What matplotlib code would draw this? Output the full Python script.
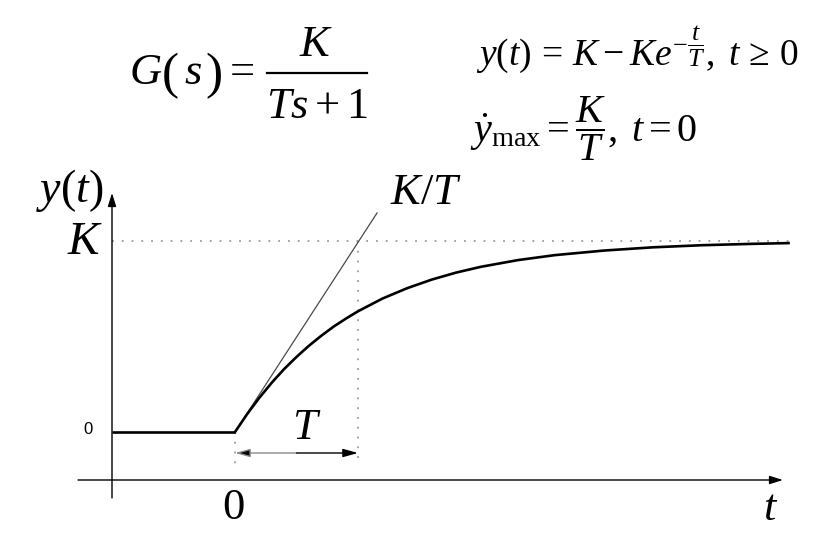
import numpy as np
import matplotlib.pyplot as plt
from matplotlib.lines import Line2D

plt.rcParams['mathtext.fontset'] = 'custom'
plt.rcParams['mathtext.rm'] = 'Liberation Serif'
plt.rcParams['mathtext.it'] = 'Liberation Serif:italic'
plt.rcParams['mathtext.bf'] = 'Liberation Serif:bold'
plt.rcParams['font.family'] = 'Liberation Serif'

# Step response of a first order system (t in units of T, y in units of K)
t_curve = [0, 0.1, 0.2, 0.3, 0.4, 0.5, 0.6, 0.7, 0.8, 0.9, 1.0, 1.2, 1.4, 1.6,
           1.8, 2.0, 2.3, 2.6, 3.0, 3.4, 3.8, 4.2, 4.5]
y_curve = [0, 0.095, 0.181, 0.259, 0.330, 0.393, 0.451, 0.503, 0.551, 0.593, 0.632,
           0.699, 0.753, 0.798, 0.835, 0.865, 0.900, 0.926, 0.950, 0.967, 0.978, 0.985, 0.989]

# Zero level before the step
t_before = [-1.0, 0.0]
y_before = [0.0, 0.0]

# Tangent at t = 0 (slope K/T)
t_tangent = [0.0, 1.155]
y_tangent = [0.0, 1.147]

K_level = 1.0
T_mark = 1.0
t_end = 4.5

# Pixel mapping of the reference: t=0 at x=235, T=123 px, y=0 at 432, K=191 px
W, H = 825, 542
X0, SX, Y0, SY = 235, 123, 432, 191

def px(x, y):
    """Pixel position -> data coordinates."""
    return (x - X0) / SX, (Y0 - y) / SY

def fpx(x, y):
    """Pixel position -> figure fraction."""
    return x / W, 1 - y / H

fig = plt.figure(figsize=(W / 100, H / 100), dpi=100)
ax = fig.add_axes([0, 0, 1, 1])
ax.set_xlim(px(0, 0)[0], px(W, 0)[0])
ax.set_ylim(px(0, H)[1], px(0, 0)[1])
ax.axis('off')

# Axes with arrow heads
head = '-|>,head_length=0.8,head_width=0.25'
ax.annotate('', xy=px(783, 480), xytext=px(78, 480),
            arrowprops=dict(arrowstyle=head, color='black', lw=1.0, shrinkA=0, shrinkB=0))
ax.annotate('', xy=px(112, 193), xytext=px(112, 498),
            arrowprops=dict(arrowstyle=head, color='black', lw=1.0, shrinkA=0, shrinkB=0))

# Dotted guide lines
dot = dict(color='#8a8a8a', lw=1.1, linestyle=(0, (1.2, 5.2)))
ax.plot([t_before[0], t_end], [K_level, K_level], **dot)
ax.plot([T_mark, T_mark], [K_level, px(0, 464)[1]], **dot)
ax.plot([0, 0], [0, px(0, 470)[1]], **dot)

# Tangent line
ax.plot(t_tangent, y_tangent, color='#4a4a4a', lw=0.9)

# Response curve
ax.plot(t_before, y_before, color='black', lw=1.9, solid_capstyle='butt')
ax.plot(t_curve, y_curve, color='black', lw=1.9)

# T dimension arrow (left half grey, right half black as in the scan)
ya = px(0, 453)[1]
ax.annotate('', xy=(0, ya), xytext=(T_mark / 2, ya),
            arrowprops=dict(arrowstyle='-|>,head_length=0.9,head_width=0.25', ec='#8a8a8a', fc='black',
                            lw=1.0, shrinkA=0, shrinkB=0))
ax.annotate('', xy=(T_mark, ya), xytext=(T_mark / 2, ya),
            arrowprops=dict(arrowstyle='-|>,head_length=0.9,head_width=0.25', color='black',
                            lw=1.0, shrinkA=0, shrinkB=0))

# Labels on the graph
ax.text(*px(103, 190), r'$y(t)$', fontsize=33, ha='right', va='center')
ax.text(*px(103, 243), r'$K$', fontsize=34, ha='right', va='center')
ax.text(*px(88, 429), '0', fontsize=12, ha='center', va='center', family='Liberation Sans')
ax.text(*px(390, 193), r'$K/T$', fontsize=32, ha='left', va='center')
ax.text(*px(307, 428), r'$T$', fontsize=32, ha='center', va='center')
ax.text(*px(233, 508), '0', fontsize=32, ha='center', va='center')
ax.text(*px(771, 509), r'$t$', fontsize=32, ha='center', va='center')

# Transfer function, laid out piece by piece (big parentheses, open fraction)
fs = 32
fig.text(*fpx(129, 84), r'$G$', fontsize=fs, ha='left', va='baseline')
fig.text(*fpx(162, 88), '(', fontsize=37, ha='left', va='baseline')
fig.text(*fpx(184, 84), r'$s$', fontsize=fs, ha='left', va='baseline')
fig.text(*fpx(205, 88), ')', fontsize=37, ha='left', va='baseline')
fig.text(*fpx(230, 84), '=', fontsize=fs, ha='left', va='baseline')
fig.lines.append(Line2D([267 / W, 367 / W], [1 - 73 / H, 1 - 73 / H], transform=fig.transFigure,
                        color='black', lw=1.6))
fig.text(*fpx(316, 56), r'$K$', fontsize=fs, ha='center', va='baseline')
fig.text(*fpx(317, 118), r'$Ts+1$', fontsize=fs, ha='center', va='baseline')

# Time response and maximum slope
fig.text(*fpx(476, 65), r'$y(t)\,=\,K-Ke^{-\dfrac{t}{T}},\;t\,\geq\,0$', fontsize=27,
         ha='left', va='baseline')
fig.text(*fpx(470, 142), r'$\dot{y}_{\mathrm{max}}=\dfrac{K}{T},\;t=0$', fontsize=29,
         ha='left', va='baseline')

fig.savefig('out.png', dpi=100, facecolor='white')
